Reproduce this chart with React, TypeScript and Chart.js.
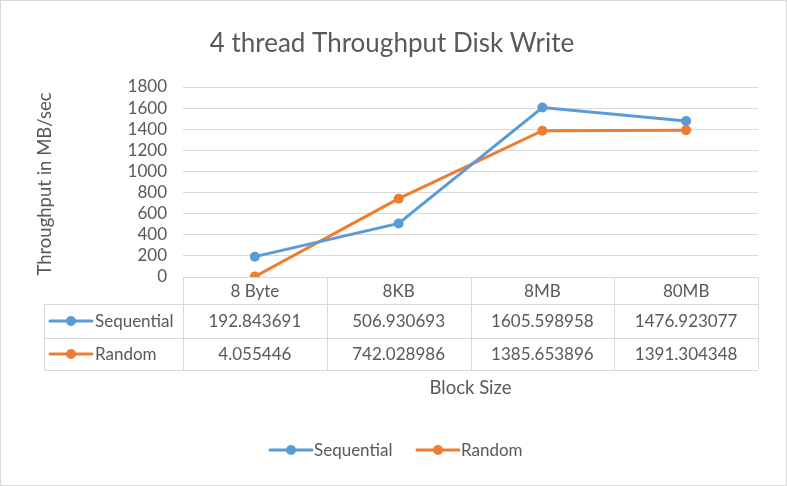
import React, { useEffect, useRef } from "react";
import { Chart, registerables } from "chart.js";

Chart.register(...registerables);

const categories = ["8 Byte", "8KB", "8MB", "80MB"];
const sequential = [192.843691, 506.930693, 1605.598958, 1476.923077];
const random = [4.055446, 742.028986, 1385.653896, 1391.304348];
const seriesNames = ["Sequential", "Random"];
const seriesColors = ["#5B9BD5", "#ED7D31"];
const titleText = "4 thread Throughput Disk Write";
const yTitle = "Throughput in MB/sec";
const xTitle = "Block Size";

const FONT = "Lato, 'Open Sans', sans-serif";
const TEXT = "#595959";
const GRID = "#d9d9d9";

function drawKey(ctx: CanvasRenderingContext2D, x1: number, x2: number, y: number, color: string) {
  ctx.save();
  ctx.strokeStyle = color;
  ctx.lineWidth = 3;
  ctx.lineCap = "round";
  ctx.beginPath();
  ctx.moveTo(x1, y);
  ctx.lineTo(x2, y);
  ctx.stroke();
  ctx.fillStyle = color;
  ctx.beginPath();
  ctx.arc((x1 + x2) / 2, y, 5, 0, Math.PI * 2);
  ctx.fill();
  ctx.restore();
}

const decorPlugin = {
  id: "decor",
  afterDraw(chart: any) {
    const ctx: CanvasRenderingContext2D = chart.ctx;
    const area = chart.chartArea;
    const left = area.left;
    const right = area.right;
    const n = categories.length;
    const colW = (right - left) / n;
    const top = area.bottom;
    const rowH = [27, 34, 32];
    const r1 = top + rowH[0];
    const r2 = r1 + rowH[1];
    const r3 = r2 + rowH[2];
    const tableLeft = 44;

    ctx.save();
    ctx.strokeStyle = GRID;
    ctx.lineWidth = 1;
    ctx.beginPath();
    for (let i = 0; i <= n; i++) {
      const x = Math.round(left + i * colW) + 0.5;
      ctx.moveTo(x, top);
      ctx.lineTo(x, r3);
    }
    ctx.moveTo(left, top + 0.5);
    ctx.lineTo(right, top + 0.5);
    [r1, r2, r3].forEach((y) => {
      ctx.moveTo(tableLeft, Math.round(y) + 0.5);
      ctx.lineTo(right, Math.round(y) + 0.5);
    });
    ctx.moveTo(tableLeft + 0.5, r1);
    ctx.lineTo(tableLeft + 0.5, r3);
    ctx.stroke();

    ctx.fillStyle = TEXT;
    ctx.font = `17px ${FONT}`;
    ctx.textAlign = "center";
    ctx.textBaseline = "middle";
    const series = [sequential, random];
    categories.forEach((c, i) => {
      const cx = left + (i + 0.5) * colW;
      ctx.fillText(c, cx, (top + r1) / 2 + 1);
      ctx.fillText(String(series[0][i]), cx, (r1 + r2) / 2 + 1);
      ctx.fillText(String(series[1][i]), cx, (r2 + r3) / 2 + 1);
    });
    const rowYs = [(r1 + r2) / 2, (r2 + r3) / 2];
    seriesNames.forEach((name, k) => {
      drawKey(ctx, 50, 92, rowYs[k], seriesColors[k]);
      ctx.fillStyle = TEXT;
      ctx.textAlign = "left";
      ctx.fillText(name, 95, rowYs[k] + 1);
    });

    ctx.textAlign = "center";
    ctx.font = `26px ${FONT}`;
    ctx.fillText(titleText, 392, 44);
    ctx.font = `18.5px ${FONT}`;
    ctx.fillText(xTitle, (left + right) / 2, 388);
    ctx.save();
    ctx.translate(45, 184);
    ctx.rotate(-Math.PI / 2);
    ctx.fillText(yTitle, 0, 0);
    ctx.restore();

    ctx.font = `17px ${FONT}`;
    ctx.textAlign = "left";
    drawKey(ctx, 270, 312, 450, seriesColors[0]);
    ctx.fillStyle = TEXT;
    ctx.fillText(seriesNames[0], 314, 451);
    drawKey(ctx, 417, 459, 450, seriesColors[1]);
    ctx.fillStyle = TEXT;
    ctx.fillText(seriesNames[1], 461, 451);

    ctx.strokeStyle = GRID;
    ctx.lineWidth = 1;
    ctx.strokeRect(0.5, 0.5, 786, 485);
    ctx.restore();
  },
};

export default function App() {
  const ref = useRef<HTMLCanvasElement>(null);
  useEffect(() => {
    const canvas = ref.current!;
    const chart = new Chart(canvas, {
      type: "line",
      data: {
        labels: categories,
        datasets: [
          {
            label: seriesNames[0],
            data: sequential,
            borderColor: seriesColors[0],
            backgroundColor: seriesColors[0],
            borderWidth: 3,
            pointRadius: 5,
            pointBackgroundColor: seriesColors[0],
            pointBorderWidth: 0,
            tension: 0,
          },
          {
            label: seriesNames[1],
            data: random,
            borderColor: seriesColors[1],
            backgroundColor: seriesColors[1],
            borderWidth: 3,
            pointRadius: 5,
            pointBackgroundColor: seriesColors[1],
            pointBorderWidth: 0,
            tension: 0,
          },
        ],
      },
      options: {
        responsive: false,
        animation: false,
        layout: { padding: { top: 87, bottom: 209, left: 0, right: 29 } },
        plugins: {
          legend: { display: false },
          title: { display: false },
          tooltip: { enabled: false },
        },
        scales: {
          x: { type: "category", display: false, offset: true },
          y: {
            min: 0,
            max: 1800,
            ticks: {
              stepSize: 200,
              autoSkip: false,
              color: TEXT,
              font: { family: FONT, size: 17 },
              padding: 16,
              callback: (v: any) => String(v),
            },
            grid: { color: GRID, lineWidth: 1, drawTicks: false },
            border: { display: false },
            afterFit: (scale: any) => {
              scale.width = 183;
            },
          },
        },
      },
      plugins: [decorPlugin],
    });
    return () => chart.destroy();
  }, []);
  return (
    <div style={{ position: "absolute", left: 0, top: 0, width: 787, height: 486, background: "#fff" }}>
      <canvas ref={ref} width={787} height={486} />
    </div>
  );
}
